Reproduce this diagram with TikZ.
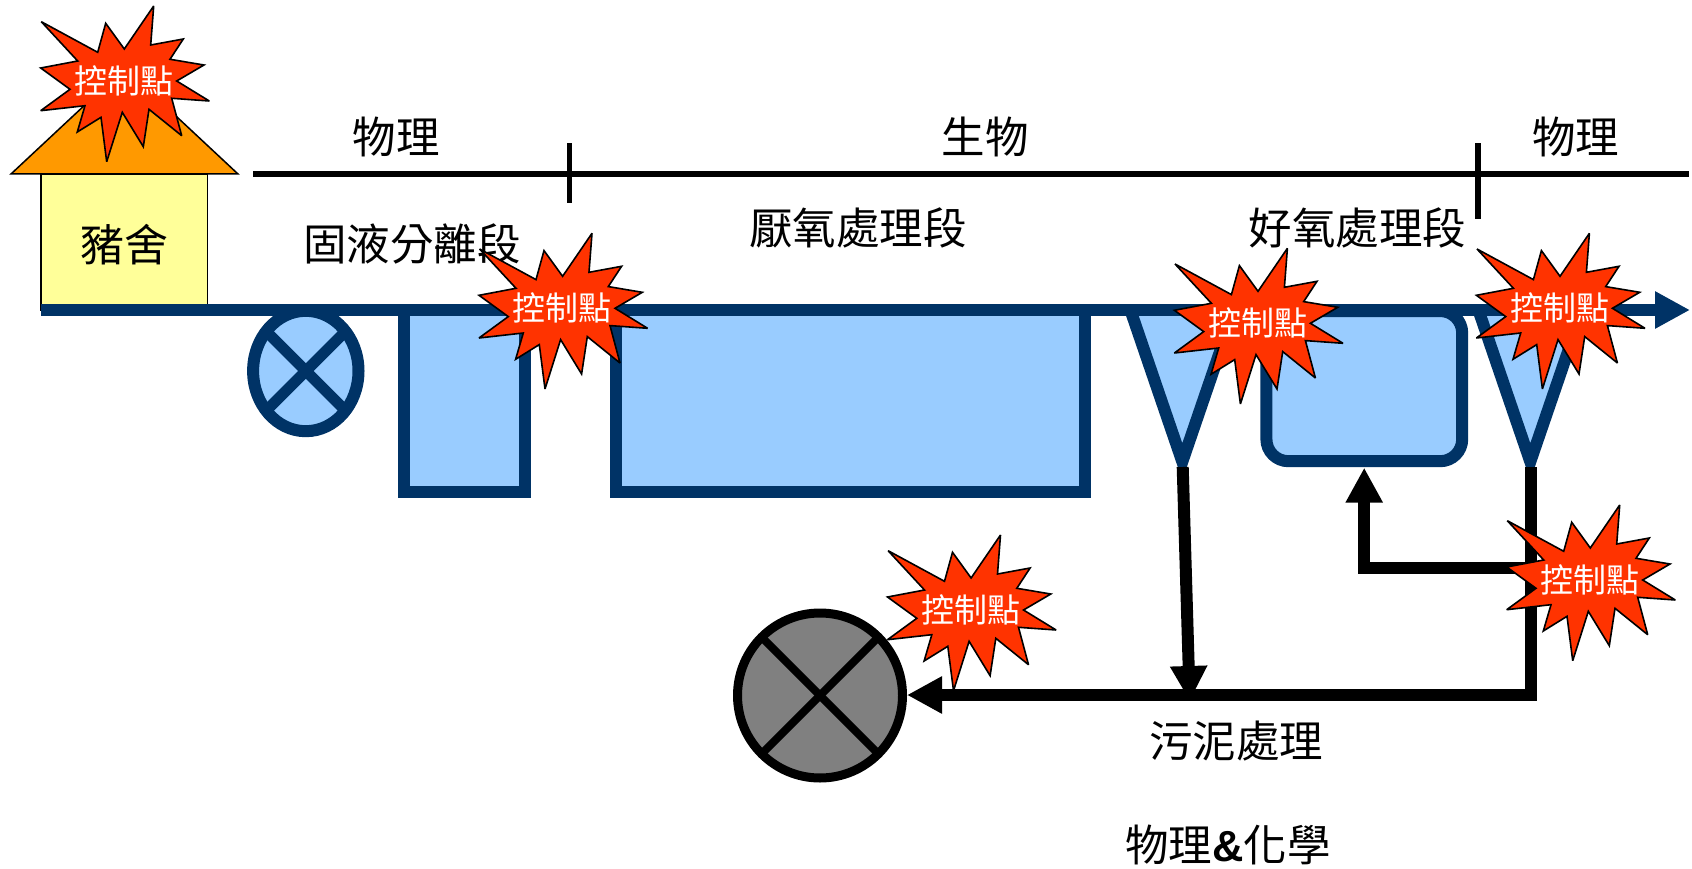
\documentclass[tikz,border=0pt]{standalone}
\usepackage{fontspec}
\setmainfont{Noto Sans CJK TC}
\newfontfamily\ampfont{Liberation Sans}
\usetikzlibrary{arrows.meta,shapes.geometric}
\definecolor{navy}{HTML}{003366}
\definecolor{tankblue}{HTML}{99CCFF}
\definecolor{burstred}{HTML}{FF3300}
\definecolor{roofor}{HTML}{FF9900}
\definecolor{wallyl}{HTML}{FFFF99}
\definecolor{sludge}{HTML}{808080}
\tikzset{
  tank/.style={draw=navy,fill=tankblue,line width=12pt,miter limit=20},
  pipe/.style={draw=black,line width=12pt},
  bighead/.style={-{Triangle[length=35pt,width=35pt]}},
  bar/.style={draw=black,line width=5.5pt},
  label/.style={inner sep=0pt,font=\fontsize{43.5}{43.5}\selectfont},
  burstlabel/.style={inner sep=0pt,text=white,font=\fontsize{33}{33}\selectfont},
}
\begin{document}
\begin{tikzpicture}[x=1pt,y=-1pt]
\useasboundingbox (0,0) rectangle (1692,869);
% house
\draw[fill=wallyl,draw=black,line width=1.5pt] (41,174) rectangle (207.7,310);
\draw[fill=roofor,draw=black,line width=1.5pt] (11,174) -- (124.5,68) -- (238,174) -- cycle;
\node[label,font=\fontsize{44}{44}\selectfont] (pigsty) at (124.5,245) {豬舍};
% equipment
\draw[tank] (404.2,310) -- (404.2,491.5) -- (525.2,491.5) -- (525.2,310);
\draw[tank] (615.8,310) -- (615.8,491.5) -- (1084.6,491.5) -- (1084.6,310);
\draw[tank] (1130.4,310) -- (1182.3,461.7) -- (1234.2,310);
\draw[tank,rounded corners=22pt] (1266.4,311) rectangle (1462.2,461.2);
\draw[tank] (1478.4,310) -- (1530.3,461.7) -- (1582.2,310);
% pump
\node[ellipse,draw=navy,fill=tankblue,line width=12pt,minimum width=105.4pt,minimum height=120.4pt,inner sep=0pt] (pump) at (305.8,371) {};
\draw[navy,line width=11pt] (266.1,331.3) -- (345.5,410.7);
\draw[navy,line width=11pt] (266.1,410.7) -- (345.5,331.3);
% main line
\coordinate (mainstart) at (41,310);
\coordinate (mainend) at (1690,310);
\draw[navy,line width=12pt,bighead] (mainstart) -- (mainend);
% sludge vessel
\node[circle,draw=black,fill=sludge,line width=9pt,minimum size=165pt,inner sep=0pt] (sink) at (820,695.5) {};
\draw[black,line width=8pt] (761.7,637.2) -- (878.3,753.8);
\draw[black,line width=8pt] (761.7,753.8) -- (878.3,637.2);
% black pipes
\coordinate (f1) at (1182.7,467);
\coordinate (f1end) at (1189.7,701);
\coordinate (f2) at (1530.7,467);
\coordinate (corner) at (1530.7,695);
\coordinate (sinkin) at (907,695);
\coordinate (tee) at (1530.7,567.5);
\coordinate (bend) at (1364.2,567.5);
\coordinate (tankin) at (1364.2,467.7);
\draw[pipe,bighead] (f2) -- (corner) -- (sinkin);
\draw[pipe,bighead] (tee) -- (bend) -- (tankin);
\draw[pipe,bighead] (f1) -- (f1end);
% scale bar
\coordinate (barl) at (253,174);
\coordinate (barr) at (1689,174);
\draw[bar] (barl) -- (barr);
\coordinate (t1a) at (569.6,143.5);
\coordinate (t1b) at (569.6,203);
\coordinate (t2a) at (1478,143.5);
\coordinate (t2b) at (1478,219);
\draw[bar] (t1a) -- (t1b);
\draw[bar] (t2a) -- (t2b);
% labels
\node[label] (la) at (396,137) {物理};
\node[label] (lb) at (985,137) {生物};
\node[label] (lc) at (1575.5,137) {物理};
\node[label] (ld) at (412,244) {固液分離段};
\node[label] (le) at (858,228) {厭氧處理段};
\node[label] (lf) at (1357.5,228) {好氧處理段};
\node[label] (lg) at (1236,741) {污泥處理};
\node[label] (lh) at (1228,845) {物理{\ampfont\bfseries\&}化學};
% bursts
\foreach \n/\dx/\dy in {1/0/0,2/438.3/227.3,3/1133.7/242.3,4/1435.7/227.3,5/1466/499,6/846.8/529}{
  \begin{scope}[shift={(\dx,\dy)}]
  \draw[fill=burstred,draw=black,line width=1.6pt,miter limit=3]
   (153.7,6) -- (150.7,45) -- (183.3,39) -- (170,59.3) -- (204,65) -- (176.7,81) -- (209.3,101)
   -- (171.7,98.3) -- (181.7,135.7) -- (149,109.3) -- (143.3,146.7) -- (122.3,112.3) -- (106.7,161.7)
   -- (101,117.3) -- (77.3,132) -- (85,105.7) -- (40.7,110.7) -- (70,89.3) -- (40.7,68) -- (77.7,61)
   -- (41.3,21.7) -- (97.7,52.3) -- (105.7,23.3) -- (124.3,49) -- cycle;
  \node[burstlabel] (ctrl\n) at (124,81) {控制點};
  \end{scope}
}
\end{tikzpicture}
\end{document}
